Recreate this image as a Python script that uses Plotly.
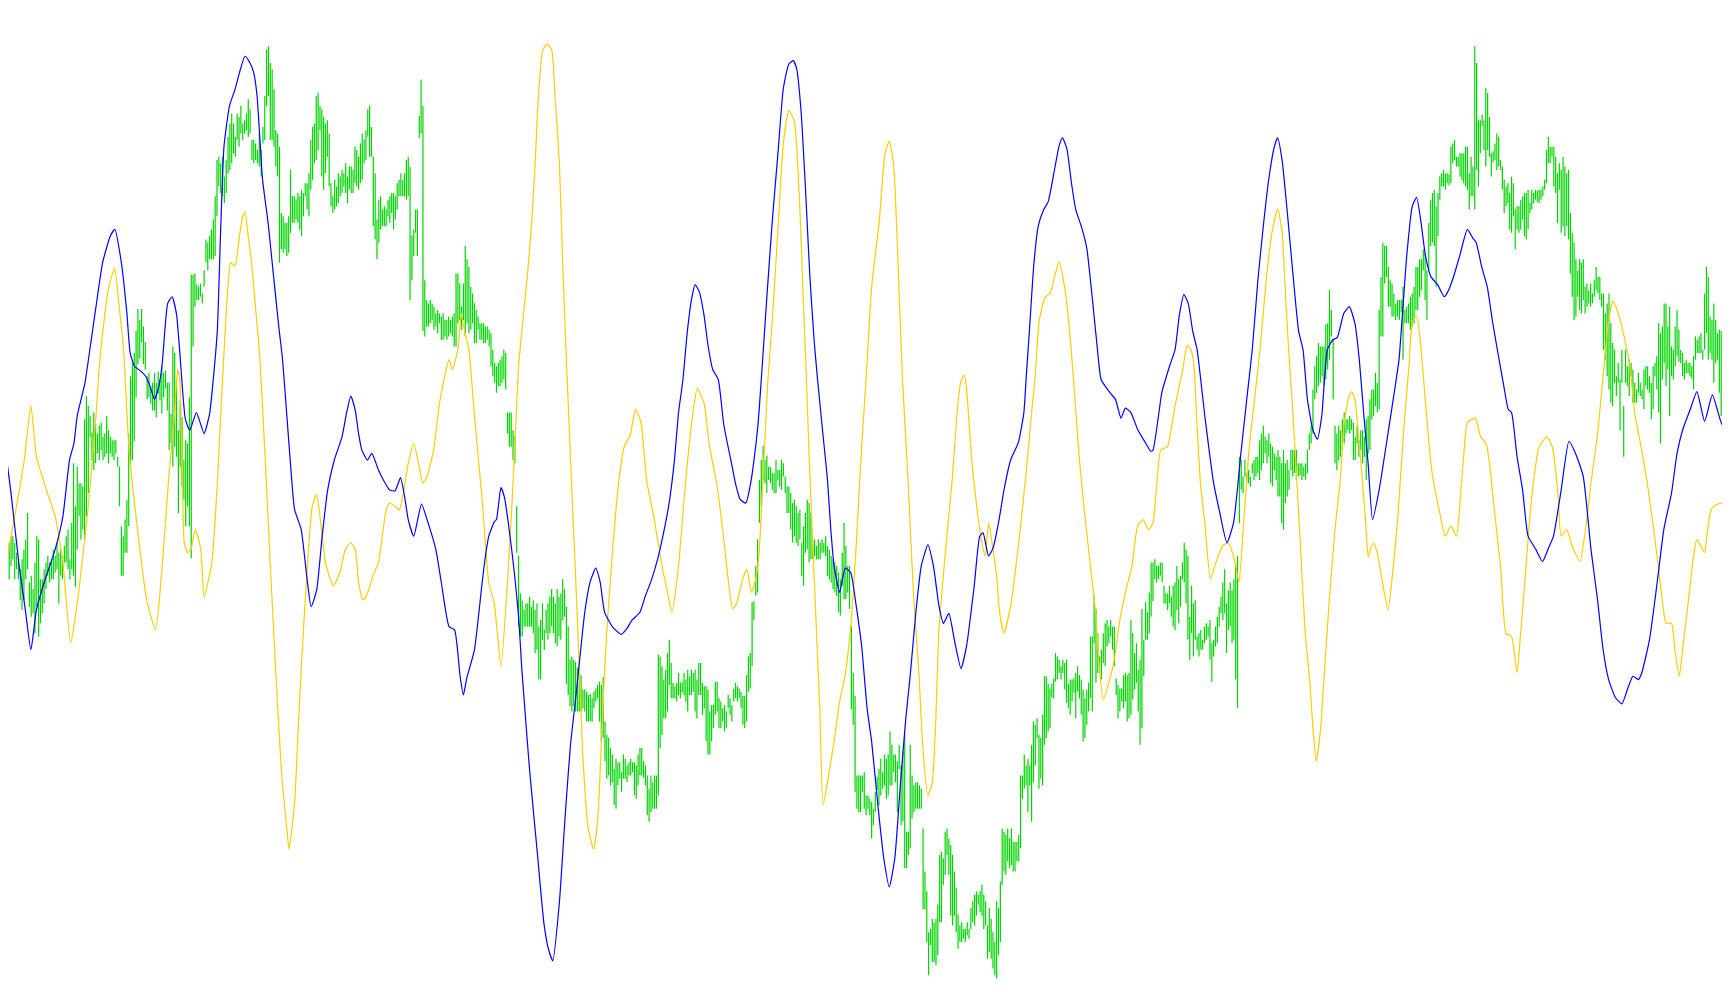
import plotly.graph_objects as go

# ---- price bars (high / low), one entry per bar, evenly spaced in time ----
bar_step = 5 / 3
bar_high = [
411,410,413,416,410,419,425,425,419,410,
401,395,404,413,422,446,383,389,377,401,
425,422,386,386,395,401,407,401,404,413,
407,419,410,413,407,416,425,431,404,437,
491,452,488,473,473,470,531,552,543,534,
519,537,527,518,525,528,515,518,534,521,
515,512,512,512,497,488,434,425,440,458,
518,570,582,591,611,631,621,631,615,601,
570,573,561,564,573,564,574,567,579,573,
575,564,564,536,597,591,567,521,548,533,
494,512,509,551,662,662,663,653,651,654,
645,666,694,691,697,703,712,733,766,769,
763,769,751,766,787,799,808,799,787,808,
805,815,799,802,808,821,812,784,784,781,
775,790,775,796,824,866,869,854,848,830,
793,790,778,718,715,709,709,715,757,733,
733,730,736,733,739,736,745,745,754,784,
796,799,824,827,815,812,805,799,802,790,
745,733,748,742,754,751,757,754,763,751,
760,760,757,778,775,769,781,790,784,793,
812,815,796,769,754,712,730,733,721,724,
721,730,733,736,736,733,745,748,754,748,
754,766,769,760,697,703,721,721,806,839,
815,657,639,636,639,636,633,627,630,627,
624,627,621,621,624,621,624,627,663,663,
654,633,654,688,676,669,651,645,636,630,
624,618,618,618,615,615,612,609,594,582,
579,582,585,588,594,591,537,537,537,521,
516,452,407,373,367,358,364,364,370,361,
367,358,364,343,349,364,340,358,364,370,
377,370,364,377,370,373,386,377,361,343,
313,316,313,311,306,301,299,286,286,284,
281,282,278,284,287,290,293,290,297,257,
245,242,233,227,214,223,220,220,211,227,
223,217,220,223,220,220,217,227,233,233,
221,217,208,196,208,202,208,208,318,316,
307,295,304,319,331,310,292,289,292,301,
292,293,301,295,304,298,304,301,304,295,
310,310,292,289,289,286,266,272,272,293,
293,278,275,269,272,266,281,278,272,287,
292,289,287,284,280,280,299,316,319,365,
366,398,422,476,494,507,494,498,488,488,
482,482,494,485,485,494,491,479,470,470,
464,455,458,452,446,449,419,434,446,458,
455,446,419,422,416,422,419,422,419,425,
416,413,407,404,401,398,392,386,410,437,
416,398,398,343,301,280,208,208,208,208,
211,190,190,187,184,178,193,207,214,223,
211,227,223,227,248,236,227,227,221,236,
217,230,245,157,157,236,208,199,202,202,
199,196,160,121,103,66,69,78,75,78,
91,136,139,133,157,160,151,145,136,121,
106,82,72,75,69,69,75,69,88,94,
100,103,100,103,109,100,94,72,88,78,
66,57,94,88,112,160,157,154,160,151,
160,148,148,148,154,208,208,227,217,223,
217,236,257,254,260,245,242,263,298,298,
291,287,291,296,319,316,313,307,313,310,
313,291,295,295,296,301,307,299,295,286,
278,286,292,334,334,371,359,337,316,322,
337,346,349,343,349,343,343,296,290,287,
287,299,301,299,301,349,337,319,328,304,
313,359,331,365,356,374,401,401,404,398,
398,401,401,380,373,373,380,370,380,383,
398,386,389,401,419,413,407,352,380,364,
367,334,337,340,331,343,346,343,349,328,
331,343,352,361,370,383,395,364,376,383,
376,386,398,407,497,494,479,494,482,485,
479,491,494,497,497,512,518,525,515,512,
518,509,506,500,497,503,497,491,503,491,
494,485,503,503,503,503,491,491,491,488,
491,503,518,525,558,579,588,600,597,597,
597,617,618,648,630,603,525,518,525,521,
531,537,531,531,534,531,528,515,525,512,
521,521,515,531,534,549,558,558,573,564,
630,660,691,688,688,669,657,654,645,636,
639,639,639,651,630,633,636,642,645,651,
669,669,676,676,685,682,666,709,730,736,
739,724,736,751,754,757,754,754,753,778,
781,784,769,769,772,772,772,778,778,754,
769,760,869,854,802,802,807,802,831,827,
805,772,774,781,790,787,766,760,748,742,
745,736,751,745,721,724,724,730,733,736,
736,739,727,739,736,739,738,739,739,742,
748,775,787,778,778,778,769,754,763,757,
769,760,754,757,718,700,691,676,666,676,
673,676,651,654,648,654,645,657,669,660,
660,645,645,627,636,645,618,600,594,570,
582,567,594,543,594,579,585,582,576,564,
558,573,564,558,576,579,579,570,564,579,
582,588,618,609,615,636,636,615,633,597,
594,615,630,612,594,591,582,585,582,582,
579,588,606,603,606,609,594,645,669,660,
624,621,636,621,609,612,611,564,556,570,555,
]
bar_low = [
391,386,377,370,395,386,398,404,386,395,
386,367,358,367,386,395,361,352,355,337,
361,334,346,355,364,377,389,383,386,386,
392,395,364,389,386,401,401,395,386,395,
389,379,413,443,422,431,422,443,464,515,
494,485,491,500,494,503,494,497,500,491,
500,497,494,500,488,452,389,389,410,410,
434,488,494,511,551,581,586,601,581,576,
549,551,545,539,539,533,554,548,536,551,
559,539,503,509,488,506,497,446,488,470,
458,434,452,434,405,597,633,639,639,642,
636,651,673,666,676,676,676,679,715,742,
736,733,727,736,754,757,763,772,769,784,
778,790,784,790,793,787,790,766,763,766,
763,760,751,781,784,815,824,784,784,778,
760,751,673,685,682,685,679,682,700,709,
709,712,709,703,697,715,733,721,715,739,
748,763,766,775,793,751,739,754,769,742,
724,718,721,724,727,733,736,742,736,727,
739,736,736,745,742,739,745,748,763,766,
787,769,769,706,694,676,691,703,706,706,
706,715,709,718,703,712,721,733,733,733,
733,730,733,639,657,679,700,679,786,790,
611,606,615,615,618,621,612,615,609,618,
603,603,606,603,606,609,606,597,597,618,
621,612,621,606,618,609,612,618,600,600,
612,603,603,600,600,603,597,579,570,564,
555,561,561,564,567,558,518,506,506,494,
491,410,343,334,334,343,343,343,343,343,
337,319,322,295,295,331,322,337,331,337,
343,337,328,325,334,331,349,352,291,281,
271,266,271,266,266,266,266,269,266,257,
257,257,257,269,275,278,257,239,242,221,
205,208,199,202,181,178,199,205,193,205,
205,202,208,208,211,190,187,199,208,208,
206,199,172,166,175,178,178,178,190,233,
245,260,260,266,290,278,278,278,275,281,
278,283,281,275,266,281,281,284,266,260,
281,281,263,269,239,227,227,239,251,263,
266,251,251,257,248,251,269,263,257,275,
278,275,278,269,254,251,257,284,287,307,
349,371,374,437,452,476,473,464,476,473,
467,464,464,476,470,467,479,464,446,446,
431,419,425,419,416,422,389,380,410,413,
401,404,404,407,404,404,404,410,410,407,
389,386,383,377,374,371,356,353,380,368,
368,374,359,268,254,193,178,175,175,193,
178,172,178,172,151,163,175,195,181,190,
196,199,187,190,199,199,211,202,175,214,
163,166,124,124,136,142,169,175,178,178,
178,178,87,87,57,27,54,39,39,36,
45,75,75,109,118,136,118,81,72,81,
66,51,57,57,60,57,63,60,69,75,
72,81,91,84,81,69,72,42,48,42,
33,27,24,45,57,109,121,118,130,124,
127,121,121,130,130,142,187,196,199,175,
199,166,202,217,242,196,205,199,236,242,
248,251,279,278,293,295,301,295,301,286,
274,269,263,275,283,260,284,278,263,239,
242,254,266,278,266,328,292,301,301,295,
310,307,325,328,334,322,307,281,260,266,
275,269,275,257,260,263,277,286,292,266,
236,251,298,331,331,337,352,366,386,383,
386,389,383,364,364,358,364,352,343,340,
358,346,361,386,383,364,331,313,337,316,
331,322,316,322,322,328,331,334,313,293,
316,325,328,343,355,349,355,319,340,343,
328,331,295,269,437,467,464,479,473,473,
470,482,476,479,482,476,485,491,500,491,
497,473,470,485,476,461,461,437,431,455,
461,467,485,479,482,476,479,480,476,479,
476,482,503,509,518,549,555,561,564,570,
561,567,576,585,606,549,491,485,494,497,
503,509,518,521,518,521,494,494,509,497,
503,491,497,476,500,503,531,534,543,537,
540,606,606,654,660,633,633,624,624,621,
624,621,628,585,618,618,618,612,615,618,
630,630,642,648,666,639,621,666,688,691,
688,651,697,730,742,742,739,745,743,745,
763,766,760,760,751,748,745,742,739,721,
733,733,721,757,742,772,797,775,760,775,
769,751,764,766,757,760,757,739,718,724,
727,703,700,715,685,703,700,703,712,697,
694,703,718,721,727,730,728,727,730,733,
739,745,763,763,769,742,736,709,739,700,
706,697,706,694,663,642,621,624,642,630,
627,639,627,633,636,633,636,642,648,645,
639,633,594,585,570,558,546,543,564,552,
564,521,564,497,564,561,552,570,546,546,
546,555,552,549,540,561,558,555,531,540,
570,558,537,509,567,582,561,576,534,570,
567,579,588,583,582,570,567,573,573,570,
568,558,585,591,591,591,585,594,609,585,
591,585,564,582,585,555,534,543,534,534,
]

# ---- blue oscillator line ----
blue_x = [0,3,10,17,23,28,33,40,50,57,63,67,70,77,81,87,93,100,104,110,115,118,122,127,132,136,140,144,147,152,
156,160,163,168,172,178,185,190,193,197,200,203,208,213,217,222,226,230,233,238,243,248,253,256,260,264,267,273,278,282,
287,292,297,303,310,314,318,322,325,328,333,337,343,348,353,358,363,367,370,375,382,388,395,400,407,412,417,420,423,430,
437,440,443,448,450,454,457,463,470,473,480,487,493,497,501,507,512,517,522,530,535,540,544,548,555,563,568,573,580,585,
590,596,601,606,611,615,619,623,627,630,634,638,642,646,651,656,663,667,671,676,680,683,687,690,695,700,705,710,715,719,
722,726,730,734,738,741,746,750,753,756,761,766,771,776,781,786,790,796,801,806,811,816,821,825,830,835,841,846,851,855,
860,865,871,876,883,888,891,896,900,905,910,916,923,928,930,933,937,941,946,950,955,960,963,967,971,975,980,985,990,995,
998,1006,1011,1016,1020,1025,1031,1038,1043,1045,1050,1053,1060,1065,1069,1073,1077,1081,1085,1092,1100,1105,1112,1118,1125,1130,1135,1140,1145,1150,
1155,1158,1162,1167,1172,1177,1181,1185,1190,1194,1198,1203,1208,1212,1218,1223,1228,1232,1236,1240,1244,1250,1258,1265,1268,1275,1280,1284,1288,1292,
1297,1303,1309,1313,1318,1323,1330,1335,1338,1343,1348,1353,1358,1363,1367,1370,1375,1380,1385,1392,1398,1403,1408,1415,1422,1428,1435,1442,1448,1453,
1458,1464,1470,1475,1480,1485,1488,1495,1502,1508,1515,1520,1525,1532,1538,1545,1552,1560,1568]
blue_y = [540,518,464,401,358,322,358,383,413,443,494,509,534,564,591,633,673,697,703,673,627,591,579,575,570,561,549,561,581,636,
642,626,591,531,521,537,518,536,564,612,703,778,815,830,845,860,855,845,824,748,709,660,612,586,534,481,449,431,389,361,
376,425,467,494,515,536,552,539,518,503,494,500,485,475,467,466,478,459,440,425,454,437,413,383,343,340,298,281,296,322,
383,407,425,438,440,469,461,419,352,304,213,138,74,51,40,93,168,235,280,356,384,396,383,356,343,336,341,349,356,371,
384,404,426,452,491,537,567,611,641,653,646,626,596,576,567,526,491,471,458,455,471,491,526,567,641,711,771,831,853,856,
849,811,741,661,601,567,516,476,431,398,374,396,392,362,325,268,239,178,133,107,133,199,260,299,355,398,417,398,362,346,
355,331,305,325,380,425,428,407,414,437,467,494,510,537,567,611,671,706,721,728,753,779,786,776,746,721,706,686,641,591,
567,555,549,532,541,537,522,510,502,503,534,555,579,594,626,644,636,611,594,534,473,449,419,437,503,549,594,656,706,749,
778,786,766,716,661,611,594,549,521,513,534,594,603,605,627,633,618,585,536,491,440,467,518,564,585,679,724,732,709,679,
660,653,642,648,662,679,703,695,691,669,651,618,589,561,540,537,497,467,425,413,402,413,425,467,511,500,479,413,367,322,
295,279,273,286,298,295,301,331,383,431,464,500,521,540,556,529,553,528,514]

# ---- yellow oscillator line ----
yellow_x = [0,5,10,17,22,28,33,43,50,57,64,70,80,87,90,95,98,102,104,108,112,117,125,133,141,147,153,158,161,163,
165,167,170,173,177,182,185,192,197,200,203,207,209,213,217,220,222,225,228,232,235,240,245,250,255,260,262,267,270,273,
278,283,287,290,295,302,308,313,318,322,325,329,333,338,343,350,353,358,362,365,370,375,380,383,387,393,398,403,407,410,
415,418,421,425,430,437,443,448,454,460,465,470,473,478,482,485,488,492,496,500,503,507,510,513,518,523,528,533,538,542,
546,550,556,561,566,571,576,581,586,593,600,605,609,615,621,628,632,638,643,650,656,661,664,668,673,677,681,685,688,693,
696,700,705,710,715,720,725,728,731,733,738,743,746,751,756,761,766,771,776,781,785,790,797,802,806,810,814,818,823,828,
833,836,841,845,848,851,856,863,868,871,874,876,881,886,890,893,896,900,903,906,910,916,923,930,935,938,942,947,952,956,
960,964,968,973,978,983,988,993,996,1000,1005,1010,1015,1020,1026,1031,1036,1041,1045,1048,1052,1058,1065,1072,1076,1079,1082,1085,1088,1092,
1097,1102,1108,1113,1117,1120,1123,1127,1132,1137,1142,1148,1153,1158,1162,1165,1168,1172,1178,1183,1187,1190,1193,1197,1200,1205,1210,1215,1218,1222,
1225,1228,1232,1235,1238,1240,1242,1245,1249,1253,1258,1262,1267,1272,1277,1280,1284,1288,1293,1298,1305,1310,1315,1320,1323,1327,1330,1337,1342,1347,
1350,1355,1360,1365,1370,1375,1378,1382,1388,1395,1402,1407,1412,1415,1420,1425,1432,1437,1442,1448,1453,1458,1462,1467,1472,1477,1482,1488,1493,1498,
1503,1507,1510,1515,1518,1522,1525,1530,1535,1538,1545,1547,1550,1553,1560,1568]
yellow_y = [437,398,425,464,494,543,497,464,443,401,328,364,452,534,579,626,648,663,668,633,594,503,428,367,340,398,479,534,576,566,
491,419,410,413,431,413,370,401,473,534,591,657,673,670,697,715,719,697,673,627,594,503,398,301,213,159,141,183,244,304,
389,452,463,443,401,380,392,413,419,413,383,367,373,389,401,449,455,452,449,461,491,509,488,473,479,503,543,570,585,576,
594,627,611,594,534,458,383,364,307,383,473,579,611,661,711,763,824,866,871,866,824,763,672,594,473,358,231,161,141,171,
261,340,422,476,507,516,540,528,476,440,398,374,356,398,470,537,559,546,507,470,422,377,359,365,386,395,374,386,410,507,
567,621,701,781,811,801,721,641,567,507,386,269,181,208,239,275,299,343,416,507,567,651,711,771,783,761,671,567,476,371,
299,239,190,202,254,340,401,476,543,566,571,559,491,446,419,407,437,413,392,356,337,362,416,482,537,567,621,641,646,661,
674,656,626,567,498,446,401,356,310,277,292,313,349,374,398,434,440,431,437,467,503,506,543,576,598,595,581,525,473,437,
386,401,416,419,410,398,383,434,503,549,594,661,701,722,701,646,594,534,428,337,295,251,221,251,295,370,431,479,525,549,
556,549,509,473,434,406,413,419,407,383,358,389,443,518,579,619,625,594,534,482,446,425,434,425,452,503,528,532,515,509,
491,443,398,337,334,301,334,383,458,506,515,506,464,425,431,416,402,431,473,518,570,621,638,626,606,581,534,503,473,437,
398,364,346,346,322,298,322,364,407,422,410,425,446,452,455,452]

# ---- build the high-low bars as one segmented trace ----
n_bars = min(len(bar_high), len(bar_low))
seg_x, seg_y = [], []
for i in range(n_bars):
    t = i * bar_step
    seg_x += [t, t, None]
    seg_y += [bar_low[i], bar_high[i], None]

fig = go.Figure()
fig.add_trace(go.Scatter(x=seg_x, y=seg_y, mode="lines",
                         line=dict(color="#00d400", width=1.2),
                         connectgaps=False, hoverinfo="skip", showlegend=False))
fig.add_trace(go.Scatter(x=yellow_x, y=yellow_y, mode="lines",
                         line=dict(color="#ffcc00", width=1.2, shape="spline", smoothing=0.5),
                         showlegend=False))
fig.add_trace(go.Scatter(x=blue_x, y=blue_y, mode="lines",
                         line=dict(color="#0000ff", width=1.2, shape="spline", smoothing=0.5),
                         showlegend=False))

# The page body has an 8px default margin; size the figure and axis windows so the
# drawing lines up with the full browser window.
page_w, page_h, body_m = 1730, 1005, 8
x_full = 1568.0
y_full = 911.0
ux = page_w / x_full
uy = page_h / y_full
fig_w = page_w - body_m
fig_h = page_h - 2 * body_m
x_lo = body_m / ux
x_hi = x_lo + fig_w / ux
y_hi = y_full - body_m / uy
y_lo = y_hi - fig_h / uy

fig.update_layout(
    width=fig_w, height=fig_h,
    margin=dict(l=0, r=0, t=0, b=0),
    paper_bgcolor="white", plot_bgcolor="white",
    showlegend=False,
)
fig.update_xaxes(range=[x_lo, x_hi], visible=False, showgrid=False, zeroline=False, fixedrange=True)
fig.update_yaxes(range=[y_lo, y_hi], visible=False, showgrid=False, zeroline=False, fixedrange=True)

fig.write_html("out.html")
